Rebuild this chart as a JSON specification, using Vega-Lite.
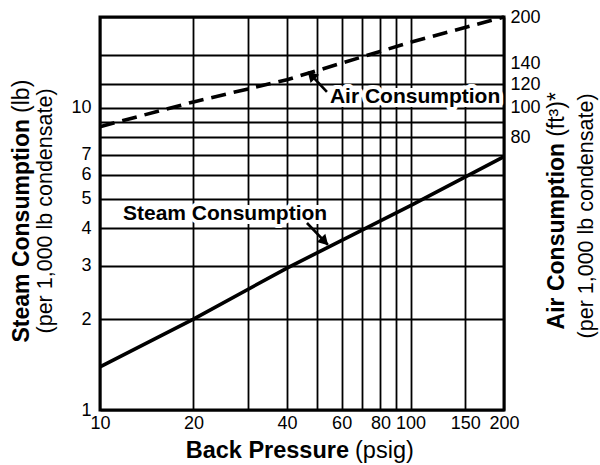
{
  "$schema": "https://vega.github.io/schema/vega-lite/v6.json",
  "width": 404,
  "height": 393,
  "autosize": {"type": "none"},
  "padding": {"left": 100, "top": 17, "right": 96, "bottom": 55},
  "background": "white",
  "config": {
    "font": "Liberation Sans",
    "view": {"stroke": "black", "strokeWidth": 3},
    "axis": {
      "domain": false, "ticks": false,
      "labelFont": "Liberation Sans", "labelFontSize": 18, "labelColor": "black",
      "gridColor": "black", "gridOpacity": 1, "gridWidth": 1.8,
      "labelOverlap": false, "labelFlush": false, "labelBound": false
    }
  },
  "datasets": {
    "steam": [{"p": 10, "v": 1.39}, {"p": 20, "v": 2.0}, {"p": 40, "v": 2.95}, {"p": 100, "v": 4.75}, {"p": 200, "v": 6.9}],
    "air": [{"p": 10, "a": 86.7}, {"p": 20, "a": 104.7}, {"p": 40, "a": 124}, {"p": 100, "a": 165}, {"p": 200, "a": 200}],
    "steamNote": [{"label": "Steam Consumption", "p": 11.86, "v": 4.26}],
    "steamArrow": [{"p": 46.4, "v": 4.16, "p2": 54.2, "v2": 3.52}],
    "steamHead": [{"p": 52.9, "v": 3.61}],
    "airNote": [{"label": "Air Consumption", "p": 55.0, "a": 103.9}],
    "airArrow": [{"p": 53.8, "a": 113, "p2": 46.8, "a2": 131.6}],
    "airHead": [{"p": 47.9, "a": 128.3}],
    "titles": [
      {"role": "xb", "label": "Back Pressure", "p": 64.8, "v": 1},
      {"role": "xp", "label": "(psig)", "p": 64.8, "v": 1},
      {"role": "lb", "label": "Steam Consumption", "p": 10, "v": 9.41},
      {"role": "lp", "label": "(lb)", "p": 10, "v": 9.41},
      {"role": "l2", "label": "(per 1,000 lb condensate)", "p": 10, "v": 4.56},
      {"role": "rb", "label": "Air Consumption", "p": 200, "v": 7.84},
      {"role": "rp", "label": "(ft³)*", "p": 200, "v": 7.84},
      {"role": "r2", "label": "(per 1,000 lb condensate)", "p": 200, "v": 4.39}
    ]
  },
  "resolve": {"scale": {"y": "independent"}},
  "encoding": {
    "x": {
      "field": "p", "type": "quantitative",
      "scale": {"type": "log", "domain": [10, 200], "nice": false},
      "axis": {
        "values": [10, 20, 30, 40, 50, 60, 70, 80, 90, 100, 150, 200],
        "labelExpr": "indexof([10, 20, 40, 60, 80, 100, 150, 200], datum.value) >= 0 ? format(datum.value, 'd') : ''",
        "grid": true, "title": null, "labelPadding": 4
      }
    }
  },
  "layer": [
    {
      "encoding": {
        "y": {
          "field": "v", "type": "quantitative",
          "scale": {"type": "log", "domain": [1, 20], "nice": false},
          "axis": {
            "values": [1, 2, 3, 4, 5, 6, 7, 8, 9, 10, 12, 15, 20],
            "labelExpr": "indexof([1, 2, 3, 4, 5, 6, 7, 10], datum.value) >= 0 ? format(datum.value, 'd') : ''",
            "grid": true, "title": null, "labelPadding": 9
          }
        }
      },
      "layer": [
        {"data": {"name": "steam"}, "mark": {"type": "line", "color": "black", "strokeWidth": 3.6}},
        {"data": {"name": "steamNote"}, "mark": {"type": "text", "fontSize": 21, "fontWeight": "bold", "align": "left", "baseline": "alphabetic", "fill": "white", "stroke": "white", "strokeWidth": 8, "strokeJoin": "round"}, "encoding": {"text": {"field": "label"}}},
        {"data": {"name": "steamArrow"}, "mark": {"type": "rule", "color": "black", "strokeWidth": 2.6}, "encoding": {"x2": {"field": "p2"}, "y2": {"field": "v2"}}},
        {"data": {"name": "steamHead"}, "mark": {"type": "point", "shape": "triangle-up", "filled": true, "color": "black", "opacity": 1, "size": 140, "angle": 136}},
        {"data": {"name": "steamNote"}, "mark": {"type": "text", "fontSize": 21, "fontWeight": "bold", "align": "left", "baseline": "alphabetic", "color": "black"}, "encoding": {"text": {"field": "label"}}},
        {"data": {"name": "titles"}, "transform": [{"filter": "datum.role == 'xb'"}], "mark": {"type": "text", "fontSize": 23.5, "fontWeight": "bold", "align": "right", "baseline": "alphabetic", "dx": -3, "dy": 48, "color": "black"}, "encoding": {"text": {"field": "label"}}},
        {"data": {"name": "titles"}, "transform": [{"filter": "datum.role == 'xp'"}], "mark": {"type": "text", "fontSize": 23.5, "align": "left", "baseline": "alphabetic", "dx": 3, "dy": 48, "color": "black"}, "encoding": {"text": {"field": "label"}}},
        {"data": {"name": "titles"}, "transform": [{"filter": "datum.role == 'lb'"}], "mark": {"type": "text", "fontSize": 23, "fontWeight": "bold", "angle": 270, "align": "right", "baseline": "middle", "dx": -3, "dy": -78, "color": "black"}, "encoding": {"text": {"field": "label"}}},
        {"data": {"name": "titles"}, "transform": [{"filter": "datum.role == 'lp'"}], "mark": {"type": "text", "fontSize": 23, "angle": 270, "align": "left", "baseline": "middle", "dx": 3, "dy": -78, "color": "black"}, "encoding": {"text": {"field": "label"}}},
        {"data": {"name": "titles"}, "transform": [{"filter": "datum.role == 'l2'"}], "mark": {"type": "text", "fontSize": 21.5, "angle": 270, "align": "center", "baseline": "middle", "dy": -54, "color": "black"}, "encoding": {"text": {"field": "label"}}},
        {"data": {"name": "titles"}, "transform": [{"filter": "datum.role == 'rb'"}], "mark": {"type": "text", "fontSize": 23, "fontWeight": "bold", "angle": 270, "align": "right", "baseline": "middle", "dx": -3, "dy": 53, "color": "black"}, "encoding": {"text": {"field": "label"}}},
        {"data": {"name": "titles"}, "transform": [{"filter": "datum.role == 'rp'"}], "mark": {"type": "text", "fontSize": 23, "angle": 270, "align": "left", "baseline": "middle", "dx": 3, "dy": 53, "color": "black"}, "encoding": {"text": {"field": "label"}}},
        {"data": {"name": "titles"}, "transform": [{"filter": "datum.role == 'r2'"}], "mark": {"type": "text", "fontSize": 21.5, "angle": 270, "align": "center", "baseline": "middle", "dy": 83, "color": "black"}, "encoding": {"text": {"field": "label"}}}
      ]
    },
    {
      "encoding": {
        "y": {
          "field": "a", "type": "quantitative",
          "scale": {"type": "log", "domain": [10, 200], "nice": false},
          "axis": {
            "orient": "right", "values": [80, 100, 120, 140, 200],
            "labelExpr": "format(datum.value, 'd')",
            "grid": false, "title": null, "labelPadding": 6
          }
        }
      },
      "layer": [
        {"data": {"name": "air"}, "mark": {"type": "line", "color": "black", "strokeWidth": 3.6, "strokeDash": [15, 8]}},
        {"data": {"name": "airNote"}, "mark": {"type": "text", "fontSize": 21, "fontWeight": "bold", "align": "left", "baseline": "alphabetic", "fill": "white", "stroke": "white", "strokeWidth": 8, "strokeJoin": "round"}, "encoding": {"text": {"field": "label"}}},
        {"data": {"name": "airArrow"}, "mark": {"type": "rule", "color": "black", "strokeWidth": 2.6}, "encoding": {"x2": {"field": "p2"}, "y2": {"field": "a2"}}},
        {"data": {"name": "airHead"}, "mark": {"type": "point", "shape": "triangle-up", "filled": true, "color": "black", "opacity": 1, "size": 140, "angle": 316}},
        {"data": {"name": "airNote"}, "mark": {"type": "text", "fontSize": 21, "fontWeight": "bold", "align": "left", "baseline": "alphabetic", "color": "black"}, "encoding": {"text": {"field": "label"}}}
      ]
    }
  ]
}
